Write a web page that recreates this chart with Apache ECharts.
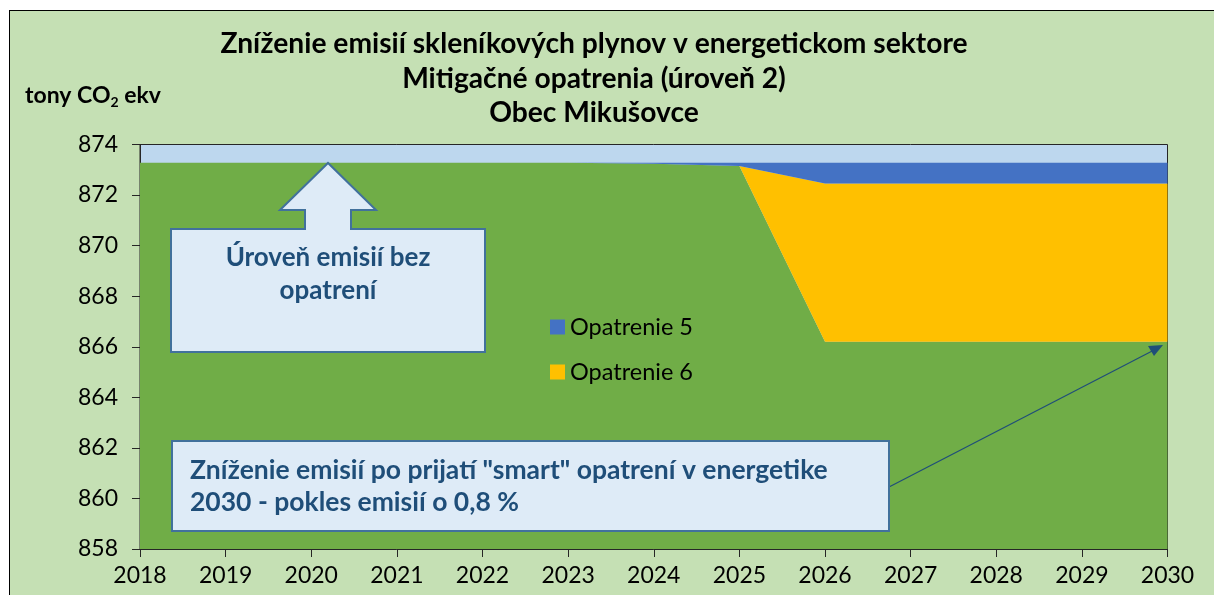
<!DOCTYPE html>
<html>
<head>
<meta charset="utf-8">
<script src="https://cdn.jsdelivr.net/npm/echarts@6/dist/echarts.min.js"></script>
<style>
  html, body { margin: 0; padding: 0; background: #fff; overflow: hidden; }
  #frame { position: absolute; left: 9px; top: 10px; width: 1300px; height: 700px;
           background: #C5E0B4; border: 1px solid #000; }
  #chart { position: absolute; left: 0; top: 0; width: 1214px; height: 595px; }
</style>
</head>
<body>
<div id="frame"></div>
<div id="chart"></div>
<script>
// --- data ---
const years = ['2018', '2019', '2020', '2021', '2022', '2023', '2024',
               '2025', '2026', '2027', '2028', '2029', '2030'];
// remaining emissions (green)
const zostatok = [873.28, 873.28, 873.28, 873.28, 873.28, 873.28, 873.24,
                  873.15, 866.2, 866.2, 866.2, 866.2, 866.2];
// reductions by measure
const opatrenie6 = [0, 0, 0, 0, 0, 0, 0, 0, 6.26, 6.26, 6.26, 6.26, 6.26];
const opatrenie5 = [0, 0, 0, 0, 0, 0, 0.04, 0.13, 0.82, 0.82, 0.82, 0.82, 0.82];

const titleLines = [
  'Zníženie emisií skleníkových plynov v energetickom sektore',
  'Mitigačné opatrenia (úroveň 2)',
  'Obec Mikušovce'
];

const font = 'Lato, "Open Sans", sans-serif';
const calloutFill = '#DEEBF7';
const calloutStroke = '#41719C';
const calloutText = '#1F4E79';

const chart = echarts.init(document.getElementById('chart'));

const areaSeries = (name, data, color) => ({
  name: name,
  type: 'line',
  stack: 'emisie',
  data: data,
  symbol: 'none',
  lineStyle: { width: 0 },
  areaStyle: { color: color, opacity: 1 },
  itemStyle: { color: color },
  emphasis: { disabled: true },
  animation: false
});

chart.setOption({
  backgroundColor: 'transparent',
  textStyle: { fontFamily: font },
  grid: {
    left: 140, right: 46.5, top: 144.5, bottom: 46,
    show: true, backgroundColor: '#BDD7EE', borderColor: '#262626', borderWidth: 1
  },
  legend: {
    data: ['Opatrenie 5', 'Opatrenie 6'],
    orient: 'vertical',
    left: 545, top: 310,
    itemWidth: 15, itemHeight: 15, itemGap: 21,
    icon: 'rect',
    textStyle: { fontSize: 23.5, color: '#000', fontFamily: font }
  },
  xAxis: {
    type: 'category',
    data: years,
    boundaryGap: false,
    axisLine: { lineStyle: { color: '#262626', width: 1 } },
    axisTick: { alignWithLabel: true, length: 8, lineStyle: { color: '#262626' } },
    axisLabel: { fontSize: 23, color: '#000', margin: 15, fontFamily: font },
    splitLine: { show: false }
  },
  yAxis: {
    type: 'value',
    min: 858, max: 874, interval: 2,
    axisLine: { show: true, lineStyle: { color: '#262626', width: 1 } },
    axisTick: { show: true, length: 8, lineStyle: { color: '#262626' } },
    axisLabel: { fontSize: 23, color: '#000', margin: 22, fontFamily: font },
    splitLine: { show: false }
  },
  series: [
    areaSeries('Emisie', zostatok, '#70AD47'),
    areaSeries('Opatrenie 6', opatrenie6, '#FFC000'),
    areaSeries('Opatrenie 5', opatrenie5, '#4472C4')
  ],
  graphic: [
    // title
    {
      type: 'text', z: 100,
      style: {
        text: titleLines.join('\n'), x: 594, y: 27, align: 'center',
        font: 'bold 28.2px ' + font, lineHeight: 34.5, fill: '#000'
      }
    },
    // y axis unit
    {
      type: 'text', z: 100,
      style: {
        x: 25, y: 83,
        text: '{a|tony CO}{s|2}{a| ekv}',
        rich: {
          a: { fontSize: 23, fontWeight: 'bold', fontFamily: font, fill: '#000', lineHeight: 26 },
          s: { fontSize: 14, fontWeight: 'bold', fontFamily: font, fill: '#000', verticalAlign: 'bottom', lineHeight: 26 }
        }
      }
    },
    // callout 1: up arrow
    {
      type: 'polygon', z: 100,
      shape: {
        points: [[171, 229], [305, 229], [305, 210], [280, 210], [328, 163], [376, 210],
                 [351, 210], [351, 229], [485, 229], [485, 352], [171, 352]]
      },
      style: { fill: calloutFill, stroke: calloutStroke, lineWidth: 2 }
    },
    {
      type: 'text', z: 101,
      style: {
        text: 'Úroveň emisií bez\nopatrení', x: 328, y: 241, align: 'center',
        font: 'bold 26px ' + font, lineHeight: 33, fill: calloutText
      }
    },
    // callout 2: box with arrow line
    {
      type: 'line', z: 99,
      shape: { x1: 889, y1: 487, x2: 1158, y2: 348 },
      style: { stroke: calloutText, lineWidth: 1.2 }
    },
    {
      type: 'polygon', z: 99,
      shape: { points: [[1163, 345], [1148, 346], [1154, 356]] },
      style: { fill: calloutText }
    },
    {
      type: 'rect', z: 100,
      shape: { x: 172, y: 441, width: 717, height: 90 },
      style: { fill: calloutFill, stroke: calloutStroke, lineWidth: 2 }
    },
    {
      type: 'text', z: 101,
      style: {
        text: 'Zníženie emisií po prijatí "smart" opatrení v energetike\n2030 - pokles emisií o 0,8 %',
        x: 190, y: 454,
        font: 'bold 26.5px ' + font, lineHeight: 32, fill: calloutText
      }
    }
  ]
});
</script>
</body>
</html>
